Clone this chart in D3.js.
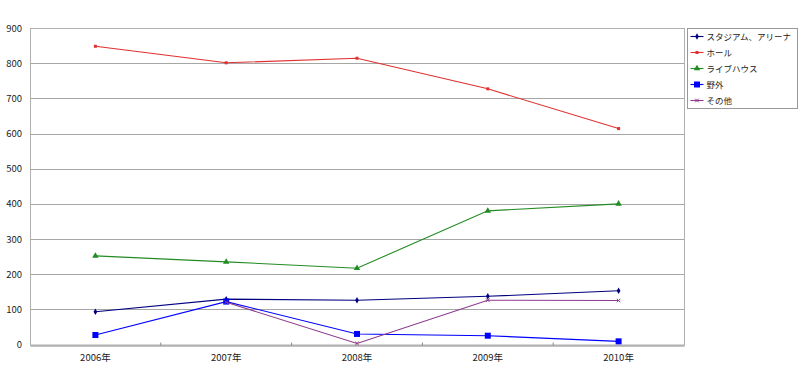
<!DOCTYPE html>
<html>
<head>
<meta charset="utf-8">
<script src="https://cdn.jsdelivr.net/npm/d3@7"></script>
<style>
	body { margin: 0; background: #fff; }
	svg { display: block; font-family: "Noto Sans CJK JP", "DejaVu Sans", sans-serif; }
</style>
</head>
<body>
<svg id="chart" width="800" height="370"></svg>
<script>
// data
const years = ['2006年', '2007年', '2008年', '2009年', '2010年'];
const seriesNames = ['スタジアム、アリーナ', 'ホール', 'ライブハウス', '野外', 'その他'];
const stadium = [93, 129, 126, 137, 153];
const hall = [848, 801, 814, 727, 614];
const livehouse = [252, 235, 217, 380, 400];
const outdoor = [27, 122, 30, 25, 9];
const other = [null, 120, 3, 126, 125];
const yTicks = [0, 100, 200, 300, 400, 500, 600, 700, 800, 900];

const colors = ['#000080', '#e03030', '#228b22', '#0000ff', '#8b3a8b'];
const symbols = ['diamond', 'square', 'triangle', 'bigsquare', 'cross'];
const allSeries = [stadium, hall, livehouse, outdoor, other];

const svg = d3.select('#chart');
const margin = {top: 28, left: 30, right: 116, bottom: 25};
const width = 800, height = 370;

const x = d3.scaleBand()
	.domain(years)
	.range([margin.left, width - margin.right]);

const y = d3.scaleLinear()
	.domain([0, 900])
	.range([height - margin.bottom - 0.5, margin.top]);

const g = svg.append('g');

// grid lines
g.selectAll('.grid')
	.data(yTicks.filter(d => d > 0 && d < 900))
	.enter().append('line')
	.attr('x1', margin.left).attr('x2', width - margin.right)
	.attr('y1', d => Math.round(y(d)) + 0.5).attr('y2', d => Math.round(y(d)) + 0.5)
	.attr('stroke', '#a6a6a6').attr('stroke-width', 1.2);

// plot border
g.append('rect')
	.attr('x', margin.left + 0.5).attr('y', margin.top + 0.5)
	.attr('width', width - margin.right - margin.left)
	.attr('height', y(0) - margin.top)
	.attr('fill', 'none').attr('stroke', '#b0b0b0');

// y axis labels
g.selectAll('.ylab')
	.data(yTicks)
	.enter().append('text')
	.attr('x', 22).attr('y', d => y(d) + 3.5)
	.attr('text-anchor', 'end')
	.style('font-size', '9.5px')
	.attr('fill', '#222')
	.text(d => d);

// x axis line and ticks
const xAxis = g.append('g')
	.attr('transform', 'translate(0,' + (Math.round(y(0)) + 0.5) + ')')
	.call(d3.axisBottom(x).tickSize(0).tickPadding(9));
xAxis.select('.domain').attr('stroke', '#888');
xAxis.selectAll('.tick text').style('font-size', '9.5px').attr('fill', '#222')
	.style('font-family', '"Noto Sans CJK JP", sans-serif');
xAxis.selectAll('.bound')
	.data(years.slice(1))
	.enter().append('line')
	.attr('x1', d => x(d)).attr('x2', d => x(d))
	.attr('y1', -3).attr('y2', 0)
	.attr('stroke', '#888');

const line = d3.line()
	.defined(d => d != null)
	.x((d, i) => x(years[i]) + x.bandwidth() / 2)
	.y(d => y(d));

function drawMarker(sel, type, color, cx, cy) {
	if (type === 'diamond') {
		sel.append('path').attr('d', d3.symbol(d3.symbolDiamond, 12)())
			.attr('transform', `translate(${cx},${cy})`).attr('fill', color);
	} else if (type === 'square') {
		sel.append('rect').attr('x', cx - 1.5).attr('y', cy - 1.5)
			.attr('width', 3).attr('height', 3).attr('fill', color);
	} else if (type === 'triangle') {
		sel.append('path').attr('d', d3.symbol(d3.symbolTriangle, 18)())
			.attr('transform', `translate(${cx},${cy})`).attr('fill', color);
	} else if (type === 'bigsquare') {
		sel.append('rect').attr('x', cx - 3).attr('y', cy - 3)
			.attr('width', 6).attr('height', 6).attr('fill', color);
	} else {
		sel.append('path').attr('d', d3.symbol(d3.symbolX, 10)())
			.attr('transform', `translate(${cx},${cy})`)
			.attr('stroke', color).attr('stroke-width', 1).attr('fill', 'none');
	}
}

allSeries.forEach((vals, k) => {
	g.append('path')
		.datum(vals)
		.attr('d', line)
		.attr('fill', 'none')
		.attr('stroke', colors[k])
		.attr('stroke-width', 1.1);
	vals.forEach((v, i) => {
		if (v == null) return;
		drawMarker(g, symbols[k], colors[k], x(years[i]) + x.bandwidth() / 2, y(v));
	});
});

// legend
const lg = svg.append('g').attr('transform', 'translate(687.5,28.5)');
lg.append('rect').attr('width', 110).attr('height', 80)
	.attr('fill', '#fff').attr('stroke', '#999');
seriesNames.forEach((name, k) => {
	const cy = 8 + k * 16;
	lg.append('line').attr('x1', 3).attr('x2', 16).attr('y1', cy).attr('y2', cy)
		.attr('stroke', colors[k]).attr('stroke-width', 1.1);
	drawMarker(lg, symbols[k], colors[k], 9.5, cy);
	lg.append('text').attr('x', 19).attr('y', cy + 3)
		.style('font-size', '8.5px').attr('fill', '#222')
		.text(name);
});
</script>
</body>
</html>
